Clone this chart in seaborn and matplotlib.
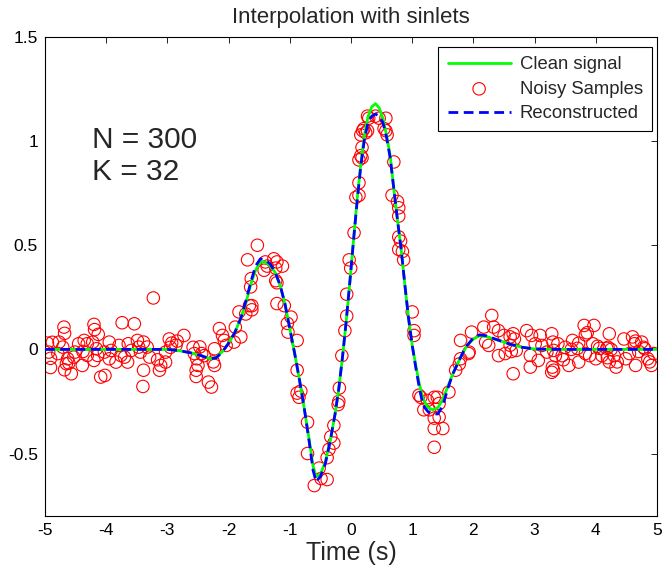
import matplotlib
matplotlib.use("Agg")
import matplotlib.pyplot as plt
import seaborn as sns
import pandas as pd

# ---------------- data ----------------
clean_t = [-5.0, -3.0, -2.8, -2.6, -2.45, -2.3, -2.2, -2.1, -2.0, -1.9, -1.8, -1.72,
           -1.64, -1.56, -1.48, -1.40, -1.32, -1.24, -1.16, -1.08, -1.00, -0.92, -0.84,
           -0.76, -0.68, -0.62, -0.57, -0.50, -0.42, -0.34, -0.26, -0.20, -0.14, -0.08,
           -0.02, 0.04, 0.10, 0.16, 0.22, 0.28, 0.34, 0.40, 0.46, 0.52, 0.58, 0.64, 0.70,
           0.76, 0.82, 0.88, 0.94, 1.00, 1.06, 1.12, 1.18, 1.26, 1.34, 1.42, 1.50, 1.58,
           1.66, 1.74, 1.82, 1.90, 2.00, 2.10, 2.20, 2.40, 2.60, 2.80, 3.00, 3.30, 5.0]
clean_y = [0.0, 0.0, -0.006, -0.018, -0.03, -0.045, -0.038, -0.01, 0.03, 0.08, 0.15, 0.22,
           0.31, 0.38, 0.42, 0.42, 0.40, 0.37, 0.31, 0.22, 0.10, -0.02, -0.15,
           -0.29, -0.44, -0.56, -0.61, -0.60, -0.54, -0.44, -0.31, -0.19, -0.04, 0.13,
           0.32, 0.52, 0.72, 0.89, 1.03, 1.12, 1.165, 1.18, 1.16, 1.11, 1.03, 0.93, 0.77,
           0.62, 0.48, 0.31, 0.15, 0.02, -0.08, -0.17, -0.24, -0.28, -0.29, -0.28, -0.24, -0.18,
           -0.12, -0.07, -0.02, 0.02, 0.05, 0.065, 0.062, 0.045, 0.025, 0.01, 0.002, 0.0, 0.0]
recon_y = [0.0, 0.0, -0.006, -0.018, -0.03, -0.046, -0.04, -0.012, 0.03, 0.08, 0.15, 0.23,
           0.32, 0.40, 0.435, 0.43, 0.41, 0.37, 0.31, 0.22, 0.10, -0.02, -0.15,
           -0.29, -0.45, -0.58, -0.635, -0.61, -0.55, -0.44, -0.31, -0.19, -0.04, 0.13,
           0.32, 0.52, 0.71, 0.88, 1.01, 1.09, 1.12, 1.13, 1.12, 1.09, 1.02, 0.92, 0.77,
           0.62, 0.48, 0.31, 0.15, 0.02, -0.09, -0.19, -0.27, -0.30, -0.31, -0.31, -0.27, -0.19,
           -0.12, -0.07, -0.02, 0.02, 0.055, 0.07, 0.066, 0.045, 0.025, 0.01, 0.002, 0.0, 0.0]

noisy_t = [
    -4.96, -4.94, -4.91, -4.91, -4.88, -4.79, -4.77, -4.71, -4.69, -4.68, -4.68, -4.65,
    -4.63, -4.61, -4.57, -4.53, -4.51, -4.45, -4.39, -4.38, -4.36, -4.31, -4.31, -4.22,
    -4.20, -4.20, -4.19, -4.16, -4.14, -4.13, -4.09, -4.03, -4.02, -3.95, -3.95, -3.92,
    -3.84, -3.79, -3.76, -3.74, -3.70, -3.65, -3.64, -3.59, -3.54, -3.49, -3.47, -3.44,
    -3.39, -3.39, -3.40, -3.33, -3.29, -3.23,
    -3.16, -3.13, -3.11, -3.03, -3.03, -2.97, -2.95, -2.93, -2.86, -2.84, -2.73, -2.58,
    -2.56, -2.47, -2.44, -2.52, -2.50, -2.53, -2.53, -2.40, -2.33, -2.28, -2.23, -2.25,
    -2.23, -2.15, -2.10, -2.07, -2.04, -1.91, -1.89, -1.80, -1.83, -1.72, -1.66, -1.64,
    -1.63, -1.69, -1.53, -1.62, -1.62,
    -1.42, -1.40, -1.37, -1.26, -1.21, -1.23, -1.12, -1.23, -1.21, -1.21, -1.09, -0.98,
    -1.04, -1.03, -0.88, -0.88, -0.88, -0.85, -0.82, -0.71, -0.71, -0.52, -0.60, -0.49,
    -0.39, -0.39, -0.36, -0.28, -0.33, -0.28, -0.21, -0.20, -0.19, -0.15, -0.10, -0.07,
    -0.07, -0.03, -0.005, 0.05, 0.08, 0.13, 0.13, 0.13, 0.16, 0.18, 0.18, 0.16, 0.19,
    0.21, 0.24, 0.27, 0.27, 0.29, 0.40, 0.46, 0.57, 0.54, 0.57, 0.59, 0.70, 0.67, 0.76,
    0.78, 0.78, 0.78, 0.81, 0.78, 0.84, 0.86, 1.00, 1.03, 1.03, 1.11,
    1.14, 1.19, 1.25, 1.28, 1.36, 1.41, 1.44, 1.36, 1.44, 1.36, 1.50, 1.36, 1.60, 1.71,
    1.77, 1.79, 1.92, 1.93, 1.79, 1.97, 2.17, 2.20, 2.25, 2.30, 2.33, 2.41, 2.50, 2.41,
    2.52, 2.65, 2.67, 2.70, 2.65,
    2.60, 2.60, 2.62, 2.87, 2.95, 3.09, 3.01, 3.12, 3.20, 2.93, 3.06, 2.93, 3.28, 3.30,
    3.31, 3.29, 3.28, 3.31, 3.34, 3.45, 3.47, 3.38, 3.50, 3.60, 3.56, 3.62, 3.70, 3.72,
    3.72, 3.81, 3.86, 3.83, 3.83, 3.90, 3.97, 3.95, 4.03, 4.06, 4.00, 4.10, 4.18, 4.22,
    4.25, 4.20, 4.19, 4.22, 4.33, 4.35, 4.30, 4.46, 4.49, 4.60, 4.63, 4.65, 4.65, 4.75,
    4.78, 4.80, 4.85, 4.91, 4.88, 4.55, 4.95, 4.70]
noisy_y = [
    0.030, -0.013, -0.043, -0.087, 0.034, -0.020, 0.035, 0.011, 0.107, 0.077, -0.098, -0.069,
    -0.045, -0.066, -0.117, -0.037, -0.013, 0.027, -0.077, -0.010, 0.043, 0.027, -0.029, 0.035,
    0.120, -0.053, 0.095, 0.003, -0.029, 0.072, -0.133, -0.013, -0.125, 0.035, -0.045, -0.005,
    -0.061, 0.019, -0.029, 0.128, -0.037, -0.061, 0.027, -0.005, 0.123, 0.043, 0.011, -0.013,
    0.035, -0.100, -0.178, 0.011, -0.037, 0.247,
    -0.050, -0.100, -0.077, -0.061, -0.013, 0.050, 0.010, 0.030, 0.020, 0.040, 0.067, 0.010,
    -0.020, 0.012, -0.020, -0.045, -0.077, -0.100, -0.130, -0.030, -0.157, -0.181, -0.077, -0.060,
    0.003, 0.100, 0.067, 0.043, 0.019, 0.035, 0.107, 0.060, 0.180, 0.170, 0.210, 0.300,
    0.340, 0.430, 0.500, 0.190, 0.210,
    0.380, 0.420, 0.400, 0.435, 0.420, 0.390, 0.400, 0.330, 0.320, 0.220, 0.210, 0.155,
    0.125, 0.083, 0.043, -0.100, -0.210, -0.230, -0.200, -0.350, -0.500, -0.570, -0.654, -0.620,
    -0.625, -0.520, -0.480, -0.450, -0.420, -0.365, -0.265, -0.250, -0.185, -0.030, 0.090, 0.160,
    0.265, 0.430, 0.390, 0.560, 0.730, 0.740, 0.800, 0.910, 0.930, 0.920, 0.970, 1.030, 1.050,
    1.060, 1.040, 1.050, 1.120, 1.110, 1.120, 1.110, 1.110, 1.060, 1.050, 1.030, 0.900, 0.740, 0.710,
    0.680, 0.640, 0.540, 0.520, 0.480, 0.470, 0.430, 0.180, 0.090, 0.067, -0.220,
    -0.230, -0.290, -0.245, -0.290, -0.230, -0.230, -0.260, -0.330, -0.325, -0.380, -0.380, -0.470, -0.205, -0.100,
    -0.070, -0.045, -0.020, -0.013, 0.043, 0.083, 0.107, 0.035, 0.019, 0.163, 0.107, 0.090, 0.067, -0.030,
    -0.020, 0.075, 0.050, -0.005, -0.117,
    0.060, 0.020, -0.010, 0.090, 0.067, 0.067, 0.027, 0.019, -0.013, -0.029, -0.053, -0.085, 0.075, 0.035,
    -0.005, -0.085, -0.110, -0.100, -0.030, -0.030, -0.050, 0.027, 0.010, 0.000, -0.077, 0.043, 0.005, 0.030,
    -0.061, 0.115, 0.080, 0.070, -0.020, -0.030, 0.115, 0.027, 0.015, 0.005, -0.045, -0.030, 0.005, 0.075,
    0.000, 0.010, -0.040, -0.060, -0.085, -0.060, -0.030, 0.050, -0.045, 0.060, 0.027, 0.040, -0.077, 0.035,
    0.010, 0.003, -0.045, -0.077, -0.060, -0.020, -0.020, -0.010]

x_ticks = [-5, -4, -3, -2, -1, 0, 1, 2, 3, 4, 5]
y_ticks = [-0.5, 0, 0.5, 1, 1.5]
y_tick_labels = ["-0.5", "0", "0.5", "1", "1.5"]

# ---------------- style ----------------
sns.set_style("white")
plt.rcParams["font.family"] = ["Liberation Sans", "DejaVu Sans"]

clean_df = pd.DataFrame({"t": clean_t, "y": clean_y})
recon_df = pd.DataFrame({"t": clean_t, "y": recon_y})
noisy_df = pd.DataFrame({"t": noisy_t, "y": noisy_y})

fig = plt.figure(figsize=(6.63, 5.80), dpi=100)
ax = fig.add_axes([45 / 663, 64 / 580, 612 / 663, 479 / 580])

sns.lineplot(data=clean_df, x="t", y="y", ax=ax, color=(0, 1, 0), lw=2.0,
             sort=False, estimator=None, label="Clean signal", zorder=2)
sns.scatterplot(data=noisy_df, x="t", y="y", ax=ax, color="red", marker="o",
                s=80, linewidth=0.8, label="Noisy Samples", zorder=1)
pts = ax.collections[-1]
pts.set_facecolor("none")
pts.set_edgecolor("red")
sns.lineplot(data=recon_df, x="t", y="y", ax=ax, color=(0, 0, 1), lw=2.0,
             sort=False, estimator=None, label="Reconstructed", zorder=3,
             dashes=False, linestyle=(0, (3.5, 2)))

ax.set_xlim(-5, 5)
ax.set_ylim(-0.8, 1.5)
ax.set_xticks(x_ticks)
ax.set_xticklabels([str(v) for v in x_ticks])
ax.set_yticks(y_ticks)
ax.set_yticklabels(y_tick_labels)
ax.tick_params(direction="in", length=4, width=0.6, top=True, right=True,
               labelsize=12.5, colors="black", pad=5)
for sp in ax.spines.values():
    sp.set_color("black")
    sp.set_linewidth(0.8)
    sp.set_visible(True)

ax.set_xlabel("Time (s)", fontsize=18, labelpad=2)
ax.set_ylabel("")
ax.set_title("Interpolation with sinlets", fontsize=16, pad=10)

ax.text(0.077, 0.785, "N = 300", transform=ax.transAxes, fontsize=21.5,
        va="center", ha="left")
ax.text(0.077, 0.718, "K = 32", transform=ax.transAxes, fontsize=21.5,
        va="center", ha="left")

handles, labels = ax.get_legend_handles_labels()
leg = ax.legend(handles, labels, loc="upper right", bbox_to_anchor=(0.992, 0.979),
                borderaxespad=0, fontsize=13.3, frameon=True, fancybox=False,
                framealpha=1, edgecolor="black", handlelength=3.4,
                handletextpad=0.5, labelspacing=0.4, borderpad=0.5)
leg.get_frame().set_linewidth(0.8)

fig.savefig("out.png", dpi=100)
